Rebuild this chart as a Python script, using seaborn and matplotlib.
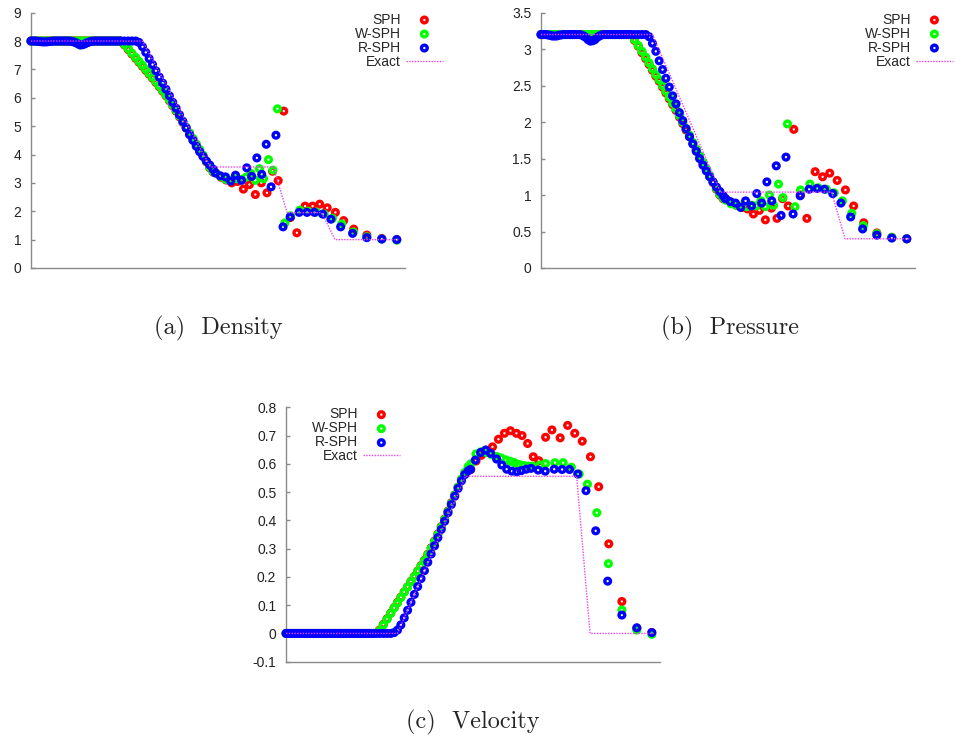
import matplotlib
matplotlib.use("Agg")
import matplotlib.pyplot as plt
from matplotlib.ticker import MultipleLocator, FuncFormatter
import pandas as pd
import seaborn as sns

# particle positions on the left part (plateau + rarefaction), same for all methods
x_left = [0.000, 0.006, 0.012, 0.018, 0.024, 0.030, 0.036, 0.042, 0.048, 0.054,
          0.060, 0.066, 0.072, 0.078, 0.084, 0.090, 0.096, 0.102, 0.108, 0.114,
          0.120, 0.126, 0.132, 0.138, 0.144, 0.150, 0.156, 0.162, 0.168, 0.174,
          0.180, 0.186, 0.192, 0.198, 0.204, 0.210, 0.216, 0.222, 0.228, 0.234,
          0.240, 0.250, 0.260, 0.270, 0.280, 0.289, 0.298, 0.307, 0.316, 0.325,
          0.334, 0.343, 0.352, 0.361, 0.370, 0.379, 0.388, 0.397, 0.406, 0.415,
          0.424, 0.433, 0.442, 0.451, 0.460, 0.469, 0.478, 0.487]

# --- SPH ---
rho_sph_left = [8.0, 8.0, 8.0, 8.0, 8.0, 8.0, 8.0, 8.0, 8.0, 8.0,
                8.0, 8.0, 8.0, 8.0, 8.0, 8.0, 8.0, 8.0, 8.0, 8.0,
                8.0, 8.0, 8.0, 8.0, 8.0, 8.0, 8.0, 8.0, 8.0, 8.0,
                8.0, 8.0, 8.0, 8.0, 8.0, 8.0, 8.0, 8.0, 8.0, 8.0,
                8.0, 7.86, 7.70, 7.54, 7.39, 7.25, 7.11, 6.97, 6.83, 6.69,
                6.54, 6.39, 6.23, 6.07, 5.90, 5.72, 5.53, 5.33, 5.13, 4.93,
                4.74, 4.54, 4.34, 4.15, 3.95, 3.74, 3.53, 3.38]
p_sph_left = [3.2, 3.2, 3.2, 3.2, 3.2, 3.2, 3.2, 3.2, 3.2, 3.2,
              3.2, 3.2, 3.2, 3.2, 3.2, 3.2, 3.2, 3.2, 3.2, 3.2,
              3.2, 3.2, 3.2, 3.2, 3.2, 3.2, 3.2, 3.2, 3.2, 3.2,
              3.2, 3.2, 3.2, 3.2, 3.2, 3.2, 3.2, 3.2, 3.2, 3.2,
              3.2, 3.12, 3.04, 2.95, 2.87, 2.79, 2.71, 2.63, 2.56, 2.48,
              2.40, 2.32, 2.24, 2.16, 2.07, 1.98, 1.89, 1.80, 1.71, 1.62,
              1.53, 1.44, 1.35, 1.26, 1.17, 1.08, 1.00, 0.95]
u_sph_left = [0.0, 0.0, 0.0, 0.0, 0.0, 0.0, 0.0, 0.0, 0.0, 0.0,
              0.0, 0.0, 0.0, 0.0, 0.0, 0.0, 0.0, 0.0, 0.0, 0.0,
              0.0, 0.0, 0.0, 0.0, 0.0, 0.0, 0.0, 0.0, 0.0, 0.0,
              0.0, 0.0, 0.0, 0.0, 0.0, 0.0, 0.0, 0.0, 0.0, 0.0,
              0.0, 0.012, 0.032, 0.052, 0.072, 0.091, 0.110, 0.128, 0.147, 0.165,
              0.184, 0.202, 0.221, 0.240, 0.259, 0.280, 0.303, 0.327, 0.352, 0.378,
              0.405, 0.433, 0.462, 0.490, 0.518, 0.544, 0.566, 0.580]
x_sph_right = [0.494, 0.508, 0.522, 0.537, 0.552, 0.568, 0.584, 0.600, 0.616, 0.631,
               0.646, 0.661, 0.676, 0.694, 0.711, 0.733, 0.753, 0.772, 0.792, 0.814,
               0.836, 0.863, 0.898, 0.938, 0.978]
rho_sph_right = [3.35, 3.20, 3.10, 3.00, 3.05, 2.78, 2.94, 2.59, 3.00, 2.65,
                 3.41, 3.08, 5.53, 1.78, 1.24, 2.18, 2.18, 2.25, 2.12, 1.96,
                 1.67, 1.37, 1.16, 1.04, 1.00]
p_sph_right = [0.95, 0.90, 0.86, 0.83, 0.81, 0.74, 0.79, 0.66, 0.82, 0.68,
               0.95, 0.85, 1.90, 1.00, 0.68, 1.32, 1.25, 1.30, 1.20, 1.07,
               0.85, 0.62, 0.48, 0.42, 0.40]
u_sph_right = [0.580, 0.610, 0.630, 0.640, 0.660, 0.687, 0.708, 0.717, 0.708, 0.700,
               0.672, 0.625, 0.611, 0.694, 0.720, 0.692, 0.736, 0.708, 0.680, 0.625,
               0.519, 0.317, 0.113, 0.018, 0.003]

# --- W-SPH ---
rho_wsph_left = [8.0, 8.0, 8.0, 8.0, 8.0, 8.0, 8.0, 8.0, 8.0, 8.0,
                 8.0, 8.0, 8.0, 8.0, 8.0, 8.0, 8.0, 8.0, 8.0, 8.0,
                 8.0, 8.0, 8.0, 8.0, 8.0, 8.0, 8.0, 8.0, 8.0, 8.0,
                 8.0, 8.0, 8.0, 8.0, 8.0, 8.0, 8.0, 8.0, 8.0, 8.0,
                 8.0, 7.88, 7.73, 7.57, 7.42, 7.28, 7.14, 7.00, 6.86, 6.72,
                 6.57, 6.42, 6.26, 6.10, 5.93, 5.75, 5.56, 5.36, 5.16, 4.96,
                 4.77, 4.57, 4.37, 4.18, 3.98, 3.76, 3.55, 3.40]
p_wsph_left = [3.2, 3.2, 3.2, 3.2, 3.2, 3.2, 3.2, 3.2, 3.2, 3.2,
               3.2, 3.2, 3.2, 3.2, 3.2, 3.2, 3.2, 3.2, 3.2, 3.2,
               3.2, 3.2, 3.2, 3.2, 3.2, 3.2, 3.2, 3.2, 3.2, 3.2,
               3.2, 3.2, 3.2, 3.2, 3.2, 3.2, 3.2, 3.2, 3.2, 3.2,
               3.2, 3.13, 3.05, 2.97, 2.89, 2.81, 2.73, 2.65, 2.58, 2.50,
               2.42, 2.34, 2.26, 2.18, 2.09, 2.00, 1.91, 1.82, 1.72, 1.63,
               1.54, 1.45, 1.36, 1.27, 1.18, 1.09, 1.01, 0.96]
u_wsph_left = [0.0, 0.0, 0.0, 0.0, 0.0, 0.0, 0.0, 0.0, 0.0, 0.0,
               0.0, 0.0, 0.0, 0.0, 0.0, 0.0, 0.0, 0.0, 0.0, 0.0,
               0.0, 0.0, 0.0, 0.0, 0.0, 0.0, 0.0, 0.0, 0.0, 0.0,
               0.0, 0.0, 0.0, 0.0, 0.0, 0.0, 0.0, 0.0, 0.0, 0.0,
               0.0, 0.010, 0.030, 0.050, 0.071, 0.090, 0.108, 0.127, 0.146, 0.164,
               0.183, 0.201, 0.220, 0.238, 0.257, 0.278, 0.301, 0.325, 0.350, 0.376,
               0.403, 0.431, 0.460, 0.489, 0.518, 0.546, 0.570, 0.590]
x_wsph_right = [0.494, 0.508, 0.522, 0.536, 0.550, 0.563, 0.575, 0.588, 0.600, 0.611,
                0.622, 0.635, 0.647, 0.659, 0.679, 0.694, 0.719, 0.741, 0.763, 0.784,
                0.806, 0.831, 0.862, 0.898, 0.938, 0.978]
rho_wsph_right = [3.35, 3.22, 3.12, 3.10, 3.15, 3.12, 3.20, 3.33, 3.09, 3.50,
                  3.15, 3.82, 3.45, 5.61, 1.59, 1.84, 2.04, 2.00, 1.97, 1.90,
                  1.75, 1.55, 1.27, 1.10, 1.02, 0.98]
p_wsph_right = [0.93, 0.88, 0.86, 0.85, 0.84, 0.86, 0.85, 0.92, 0.84, 1.00,
                0.86, 1.15, 0.965, 1.975, 0.84, 1.07, 1.15, 1.10, 1.08, 1.03,
                0.92, 0.75, 0.58, 0.47, 0.42, 0.40]
u_wsph_right = [0.600, 0.635, 0.643, 0.640, 0.632, 0.626, 0.621, 0.614, 0.609, 0.604,
                0.598, 0.594, 0.592, 0.592, 0.596, 0.601, 0.604, 0.604, 0.588, 0.564,
                0.528, 0.427, 0.247, 0.083, 0.012, -0.003]

# --- R-SPH ---
rho_rsph_left = [8.0, 8.0, 8.0, 7.99, 7.98, 7.97, 7.97, 7.97, 7.98, 7.99,
                 8.0, 8.0, 8.0, 8.0, 8.0, 8.0, 8.0, 8.0, 7.99, 7.97,
                 7.94, 7.90, 7.86, 7.87, 7.90, 7.94, 7.97, 7.99, 8.0, 8.0,
                 8.0, 8.0, 8.0, 8.0, 8.0, 8.0, 8.0, 8.0, 8.0, 8.0,
                 8.0, 8.0, 8.0, 8.0, 8.0, 7.95, 7.80, 7.60, 7.38, 7.17,
                 6.95, 6.73, 6.52, 6.30, 6.07, 5.84, 5.63, 5.40, 5.17, 4.94,
                 4.70, 4.50, 4.29, 4.10, 3.93, 3.77, 3.63, 3.48]
p_rsph_left = [3.2, 3.2, 3.2, 3.195, 3.19, 3.18, 3.18, 3.18, 3.19, 3.195,
               3.2, 3.2, 3.2, 3.2, 3.2, 3.2, 3.2, 3.2, 3.195, 3.18,
               3.16, 3.13, 3.11, 3.115, 3.13, 3.16, 3.18, 3.195, 3.2, 3.2,
               3.2, 3.2, 3.2, 3.2, 3.2, 3.2, 3.2, 3.2, 3.2, 3.2,
               3.2, 3.2, 3.2, 3.2, 3.2, 3.17, 3.08, 2.97, 2.84, 2.72,
               2.60, 2.48, 2.36, 2.25, 2.13, 2.02, 1.91, 1.80, 1.70, 1.60,
               1.50, 1.41, 1.33, 1.25, 1.18, 1.11, 1.05, 0.99]
u_rsph_left = [0.0, 0.0, 0.0, 0.0, 0.0, 0.0, 0.0, 0.0, 0.0, 0.0,
               0.0, 0.0, 0.0, 0.0, 0.0, 0.0, 0.0, 0.0, 0.0, 0.0,
               0.0, 0.0, 0.0, 0.0, 0.0, 0.0, 0.0, 0.0, 0.0, 0.0,
               0.0, 0.0, 0.0, 0.0, 0.0, 0.0, 0.0, 0.0, 0.0, 0.0,
               0.0, 0.0, 0.0, 0.0, 0.0, 0.003, 0.012, 0.030, 0.055, 0.082,
               0.110, 0.138, 0.166, 0.194, 0.222, 0.252, 0.281, 0.310, 0.339, 0.368,
               0.397, 0.427, 0.456, 0.485, 0.513, 0.540, 0.562, 0.575]
x_rsph_right = [0.493, 0.506, 0.520, 0.534, 0.547, 0.563, 0.577, 0.590, 0.604, 0.617,
                0.629, 0.642, 0.655, 0.674, 0.693, 0.717, 0.738, 0.758, 0.780, 0.802,
                0.828, 0.860, 0.898, 0.938, 0.978]
rho_rsph_right = [3.35, 3.25, 3.21, 3.06, 3.27, 3.09, 3.53, 3.23, 3.88, 3.30,
                  4.36, 2.86, 4.68, 1.45, 1.80, 1.96, 1.96, 1.96, 1.90, 1.72,
                  1.45, 1.22, 1.07, 1.02, 1.00]
p_rsph_right = [0.95, 0.91, 0.89, 0.83, 0.92, 0.85, 1.02, 0.89, 1.18, 0.92,
                1.40, 0.72, 1.52, 0.74, 0.99, 1.08, 1.09, 1.08, 1.02, 0.89,
                0.70, 0.535, 0.45, 0.41, 0.40]
u_rsph_right = [0.580, 0.613, 0.640, 0.649, 0.637, 0.617, 0.596, 0.581, 0.574, 0.572,
                0.576, 0.581, 0.584, 0.578, 0.574, 0.581, 0.580, 0.580, 0.564, 0.505,
                0.363, 0.185, 0.065, 0.020, 0.003]

# --- exact Riemann solution ---
x_exact = [0.0, 0.298, 0.480, 0.648, 0.685, 0.777, 0.813, 0.985]
rho_exact = [8.0, 8.0, 3.56, 3.56, 1.95, 1.95, 1.0, 1.0]
p_exact = [3.2, 3.2, 1.04, 1.04, 1.04, 1.04, 0.4, 0.4]
u_exact = [0.0, 0.0, 0.556, 0.556, 0.556, 0.556, 0.0, 0.0]

methods = ["SPH", "W-SPH", "R-SPH"]
colores = {"SPH": "#ff0000", "W-SPH": "#00ff00", "R-SPH": "#0000ff"}

frames = []
for name, xr, rl, rr, pl, pr, ul, ur in [
        ("SPH", x_sph_right, rho_sph_left, rho_sph_right, p_sph_left, p_sph_right, u_sph_left, u_sph_right),
        ("W-SPH", x_wsph_right, rho_wsph_left, rho_wsph_right, p_wsph_left, p_wsph_right, u_wsph_left, u_wsph_right),
        ("R-SPH", x_rsph_right, rho_rsph_left, rho_rsph_right, p_rsph_left, p_rsph_right, u_rsph_left, u_rsph_right)]:
    frames.append(pd.DataFrame({"x": x_left + xr, "rho": rl + rr, "p": pl + pr,
                                "u": ul + ur, "method": name}))
particles = pd.concat(frames, ignore_index=True)

sns.set_style("ticks")
plt.rcParams["font.family"] = ["Liberation Sans", "DejaVu Sans"]
plt.rcParams["axes.unicode_minus"] = False

fig = plt.figure(figsize=(9.56, 7.45), dpi=100)
fig.patch.set_facecolor("white")

GRIS = "#8a8a8a"


def dibujar_panel(ax, campo, exact_y, ylim, paso, legend_x):
    for name in methods:
        frame = particles[particles["method"] == name]
        c = colores[name]
        sns.scatterplot(data=frame, x="x", y=campo, ax=ax, marker="o", s=17,
                        color=c, facecolor="none", edgecolor=c, linewidth=2.4,
                        clip_on=False, label=name, legend=False, zorder=3)
    sns.lineplot(x=x_exact, y=exact_y, ax=ax, color="#f040f0", linewidth=1.0,
                 linestyle=(0, (1, 1)), sort=False, estimator=None,
                 label="Exact", legend=False, zorder=4)
    ax.set_xlim(0, 1)
    ax.set_ylim(*ylim)
    ax.set_xticks([])
    ax.yaxis.set_major_locator(MultipleLocator(paso))
    ax.yaxis.set_major_formatter(FuncFormatter(lambda v, pos: f"{v:g}"))
    ax.set_xlabel("")
    ax.set_ylabel("")
    for lado in ["top", "right"]:
        ax.spines[lado].set_visible(False)
    for lado in ["left", "bottom"]:
        ax.spines[lado].set_color(GRIS)
        ax.spines[lado].set_linewidth(1.0)
    ax.tick_params(axis="y", direction="in", length=3, width=1, color=GRIS,
                   labelsize=10, pad=7, labelcolor="#222222")
    ax.legend(loc="upper right", bbox_to_anchor=(legend_x, 1.0),
              frameon=False, markerfirst=False, fontsize=10,
              handlelength=2.7, handletextpad=0.35, labelspacing=0.0,
              borderpad=0, borderaxespad=0, scatterpoints=1)


ax_rho = fig.add_axes([0.0324, 0.6403, 0.3912, 0.3427])
ax_p = fig.add_axes([0.5659, 0.6403, 0.3912, 0.3427])
ax_u = fig.add_axes([0.2992, 0.1118, 0.3912, 0.3415])

dibujar_panel(ax_rho, "rho", rho_exact, (0, 9), 1, 1.102)
dibujar_panel(ax_p, "p", p_exact, (0, 3.5), 0.5, 1.102)
dibujar_panel(ax_u, "u", u_exact, (-0.1, 0.8), 0.1, 0.305)

fig.text(0.228, 0.5597, "(a)  Density", family="cmr10", fontsize=17.5,
         ha="center", va="center")
fig.text(0.7636, 0.5597, "(b)  Pressure", family="cmr10", fontsize=17.5,
         ha="center", va="center")
fig.text(0.4948, 0.0309, "(c)  Velocity", family="cmr10", fontsize=17.5,
         ha="center", va="center")

fig.savefig("out.png", dpi=100)
